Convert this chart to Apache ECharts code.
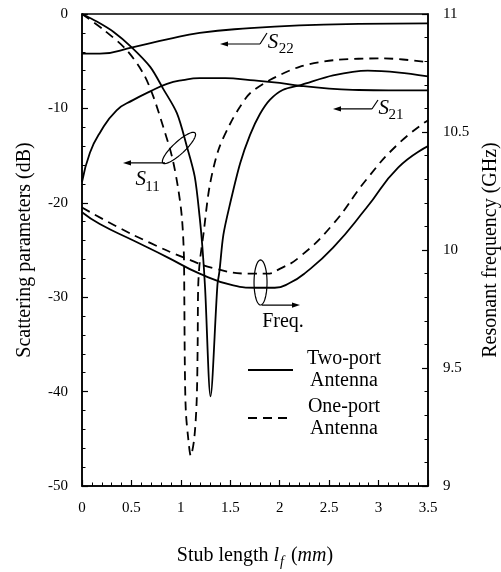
<!DOCTYPE html>
<html><head><meta charset="utf-8">
<script src="https://cdn.jsdelivr.net/npm/echarts@6/dist/echarts.min.js"></script>
<style>html,body{margin:0;padding:0;background:#fff}#c{width:501px;height:572px}</style>
</head><body><div id="c"></div>
<script>
// ---- data ----
// x: stub length l_f (mm); y: dB (S-parameters) or GHz (resonant frequency)
const s11TwoPort = [[0,0],[0.15,-0.8],[0.32,-1.9],[0.5,-3.5],[0.69,-5.6],[0.82,-7.9],[0.96,-10.5],[1.06,-14.0],[1.14,-17.2],[1.19,-21.5],[1.22,-25.0],[1.245,-29.0],[1.30,-40.5],[1.37,-28.7],[1.39,-27.3],[1.43,-23.4],[1.5,-20.0],[1.6,-15.8],[1.7,-12.8],[1.8,-10.6],[1.9,-9.1],[2.03,-8.05],[2.22,-7.5],[2.54,-6.5],[2.89,-6.0],[3.21,-6.2],[3.5,-6.6]];
const s11OnePort = [[0,0],[0.21,-1.6],[0.45,-3.8],[0.62,-6.3],[0.72,-8.7],[0.82,-11.9],[0.91,-15.1],[0.97,-18.3],[1.01,-21.5],[1.03,-25.3],[1.035,-30],[1.04,-37],[1.05,-42],[1.075,-45],[1.10,-46.8],[1.135,-45],[1.16,-41],[1.17,-35],[1.175,-29],[1.19,-26.4],[1.23,-23.2],[1.29,-18.3],[1.38,-14.4],[1.5,-11.6],[1.6,-9.8],[1.7,-8.4],[1.9,-7.0],[2.2,-5.6],[2.54,-4.9],[3.05,-4.7],[3.5,-5.1]];
const s21TwoPort = [[0,-17.8],[0.08,-14.7],[0.18,-12.6],[0.35,-10.2],[0.52,-9.1],[0.69,-8.2],[0.86,-7.4],[1.02,-7.0],[1.19,-6.8],[1.45,-6.8],[1.7,-7.0],[2.0,-7.3],[2.2,-7.6],[2.5,-7.9],[2.8,-8.05],[3.1,-8.1],[3.5,-8.1]];
const s22TwoPort = [[0,-4.2],[0.18,-4.2],[0.52,-3.5],[0.86,-2.7],[1.19,-2.0],[1.7,-1.5],[2.2,-1.2],[2.8,-1.05],[3.5,-1.0]];
const freqTwoPort = [[0,10.16],[0.18,10.11],[0.52,10.04],[0.86,9.97],[1.19,9.90],[1.53,9.85],[1.75,9.84],[1.95,9.84],[2.1,9.86],[2.25,9.90],[2.54,10.01],[2.88,10.18],[3.2,10.35],[3.5,10.44]];
const freqOnePort = [[0,10.18],[0.35,10.10],[0.69,10.03],[1.02,9.97],[1.36,9.92],[1.7,9.90],[1.87,9.90],[2.0,9.92],[2.2,9.97],[2.54,10.11],[2.88,10.30],[3.2,10.45],[3.5,10.55]];
const legendNames = ['Two-port Antenna', 'One-port Antenna'];
const xAxisName = 'Stub length';
const yLeftName = 'Scattering parameters (dB)';
const yRightName = 'Resonant frequency (GHz)';

// ---- styling ----
const FONT = '"Liberation Serif", "Times New Roman", serif';
const BLACK = '#000';
const DASH = [9, 6];

const chart = echarts.init(document.getElementById('c'), null, {renderer: 'canvas'});

function axisCommon(margin) {
  return {
    axisLine: {show: true, onZero: false, lineStyle: {color: BLACK, width: 1.5}},
    axisTick: {show: true, inside: true, length: 6, lineStyle: {color: BLACK, width: 1.2}},
    minorTick: {show: true, splitNumber: 5, length: 3.5, lineStyle: {color: BLACK, width: 1}},
    splitLine: {show: false},
    minorSplitLine: {show: false},
    axisLabel: {color: BLACK, fontFamily: FONT, fontSize: 15, margin: margin}
  };
}

function lineSeries(name, data, yAxisIndex, dashed, smooth) {
  return {
    name: name, type: 'line', data: data, yAxisIndex: yAxisIndex,
    symbol: 'none', smooth: smooth, silent: true,
    lineStyle: {color: BLACK, width: 1.8, type: dashed ? DASH : 'solid'},
    itemStyle: {color: BLACK},
    z: 3
  };
}

const option = {
  animation: false,
  backgroundColor: '#fff',
  grid: {left: 82, right: 73, top: 14, bottom: 86, outerBoundsMode: 'none', containLabel: false,
    show: true, borderColor: BLACK, borderWidth: 1.5, backgroundColor: 'transparent'},
  xAxis: Object.assign(axisCommon(15), {
    type: 'value', min: 0, max: 3.5, interval: 0.5,
    name: '{n|' + xAxisName + ' }{i|l}{s|f}{n| (}{i|mm}{n|)}',
    nameLocation: 'middle', nameGap: 57,
    nameTextStyle: {rich: {
      n: {fontFamily: FONT, fontSize: 20, color: BLACK},
      i: {fontFamily: FONT, fontSize: 20, fontStyle: 'italic', color: BLACK},
      s: {fontFamily: FONT, fontSize: 14, fontStyle: 'italic', color: BLACK, padding: [12, 2, 0, 1]}
    }}
  }),
  yAxis: [
    Object.assign(axisCommon(14), {
      type: 'value', min: -50, max: 0, interval: 10, position: 'left',
      name: yLeftName, nameLocation: 'middle', nameRotate: 90, nameGap: 47,
      nameTextStyle: {fontFamily: FONT, fontSize: 20, color: BLACK}
    }),
    Object.assign(axisCommon(15), {
      type: 'value', min: 9, max: 11, interval: 0.5, position: 'right',
      name: yRightName, nameLocation: 'middle', nameRotate: 90, nameGap: 53,
      nameTextStyle: {fontFamily: FONT, fontSize: 20, color: BLACK}
    })
  ],
  legend: {
    data: legendNames, orient: 'vertical', left: 247, top: 349, padding: 0,
    itemWidth: 45, itemHeight: 14, itemGap: 6, selectedMode: false,
    itemStyle: {color: 'rgba(0,0,0,0)', borderWidth: 0, opacity: 0},
    formatter: function (n) { const p = n.split(' '); return '{a|' + p[0] + '}\n{a|' + p[1] + '}'; },
    textStyle: {rich: {a: {fontFamily: FONT, fontSize: 20, color: BLACK, width: 92, align: 'center', lineHeight: 22}}}
  },
  series: [
    lineSeries('Two-port Antenna', s11TwoPort, 0, false, 0.3),
    lineSeries('One-port Antenna', s11OnePort, 0, true, 0.3),
    lineSeries('Two-port Antenna', s21TwoPort, 0, false, true),
    lineSeries('Two-port Antenna', s22TwoPort, 0, false, true),
    lineSeries('Two-port Antenna', freqTwoPort, 1, false, true),
    lineSeries('One-port Antenna', freqOnePort, 1, true, true)
  ]
};
chart.setOption(option);

// ---- annotations (anchored in data coordinates: mm, dB) ----
const P = (x, y) => chart.convertToPixel({xAxisIndex: 0, yAxisIndex: 0}, [x, y]);
const stroke = {stroke: BLACK, lineWidth: 1.2, fill: null};
const g = [];
function arrow(tail, head) {
  const a = P(tail[0], tail[1]), b = P(head[0], head[1]);
  const dx = b[0] - a[0], dy = b[1] - a[1], L = Math.hypot(dx, dy), ux = dx / L, uy = dy / L;
  const hl = 8, hw = 2.6;
  g.push({type: 'line', shape: {x1: a[0], y1: a[1], x2: b[0] - ux * hl * 0.6, y2: b[1] - uy * hl * 0.6}, style: stroke, silent: true});
  g.push({type: 'polygon', shape: {points: [[b[0], b[1]], [b[0] - ux * hl - uy * hw, b[1] - uy * hl + ux * hw], [b[0] - ux * hl + uy * hw, b[1] - uy * hl - ux * hw]]}, style: {fill: BLACK}, silent: true});
}
function seg(p1, p2) {
  const a = P(p1[0], p1[1]), b = P(p2[0], p2[1]);
  g.push({type: 'line', shape: {x1: a[0], y1: a[1], x2: b[0], y2: b[1]}, style: stroke, silent: true});
}
function ellipse(c, rx, ry, angDeg) {
  const o = P(c[0], c[1]), t = angDeg * Math.PI / 180, pts = [];
  for (let k = 0; k < 60; k++) {
    const u = k / 60 * 2 * Math.PI, ex = rx * Math.cos(u), ey = ry * Math.sin(u);
    pts.push([o[0] + ex * Math.cos(t) + ey * Math.sin(t), o[1] - ex * Math.sin(t) + ey * Math.cos(t)]);
  }
  g.push({type: 'polygon', shape: {points: pts}, style: stroke, silent: true});
}
function label(pos, text, size, italic, align) {
  const p = P(pos[0], pos[1]);
  g.push({type: 'text', x: p[0], y: p[1], silent: true, style: {text: text, fill: BLACK,
    font: (italic ? 'italic ' : '') + size + 'px ' + FONT, textAlign: align || 'left', textVerticalAlign: 'middle'}});
}
// S22
arrow([1.801, -3.18], [1.396, -3.18]); seg([1.801, -3.18], [1.871, -2.01]);
label([1.88, -3.02], 'S', 21, true); label([1.99, -3.75], '22', 15, false);
// S21
arrow([2.933, -10.06], [2.539, -10.06]); seg([2.933, -10.06], [2.994, -9.11]);
label([3.0, -10.06], 'S', 21, true); label([3.10, -10.75], '21', 15, false);
// S11
arrow([0.840, -15.78], [0.415, -15.78]); ellipse([0.981, -14.19], 22, 6, 43);
label([0.54, -17.58], 'S', 21, true); label([0.64, -18.3], '11', 15, false);
// Freq.
ellipse([1.806, -28.44], 6.5, 22.5, 0); arrow([1.821, -30.83], [2.205, -30.83]);
label([2.033, -32.6], 'Freq.', 20, false, 'center');
chart.setOption({graphic: g});
</script>
</body></html>
